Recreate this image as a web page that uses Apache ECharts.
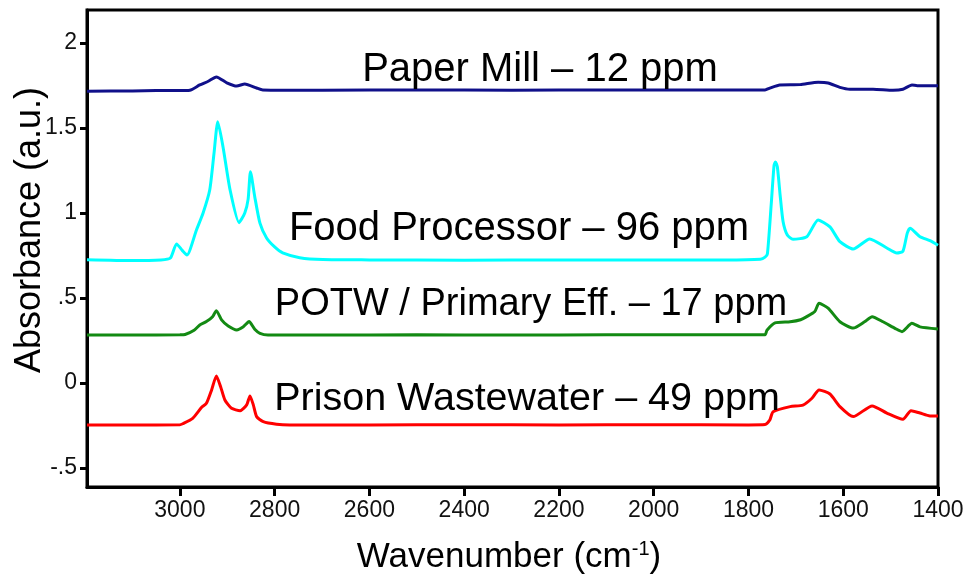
<!DOCTYPE html>
<html>
<head>
<meta charset="utf-8">
<script src="https://cdn.jsdelivr.net/npm/echarts@6/dist/echarts.min.js"></script>
<style>html,body{margin:0;padding:0;background:#fff;}#c{width:969px;height:580px;}</style>
</head>
<body>
<div id="c"></div>
<script>
var xTicks = [1400, 1600, 1800, 2000, 2200, 2400, 2600, 2800, 3000];
var yTicks = [-0.5, 0, 0.5, 1, 1.5, 2];

var paperWn  = [3196, 3100, 3050, 3000, 2979, 2958, 2940, 2923, 2901, 2880, 2863, 2838, 2825, 2700, 2500, 2300, 2100, 1900, 1765, 1755, 1734, 1691, 1653, 1632, 1607, 1586, 1537, 1495, 1474, 1455, 1444, 1400];
var paperAbs = [1.716, 1.718, 1.72, 1.72, 1.722, 1.753, 1.775, 1.80, 1.766, 1.747, 1.759, 1.735, 1.724, 1.722, 1.724, 1.722, 1.724, 1.724, 1.724, 1.734, 1.753, 1.755, 1.769, 1.765, 1.739, 1.728, 1.728, 1.722, 1.728, 1.753, 1.749, 1.749];

var foodWn  = [3196, 3100, 3040, 3020, 3007, 2995, 2985, 2965, 2951, 2937, 2928, 2920, 2909, 2894, 2875, 2863, 2856, 2851, 2842, 2831, 2817, 2800, 2783, 2747, 2698, 2600, 2400, 2200, 2000, 1850, 1775, 1765, 1760, 1752, 1746, 1743, 1739, 1733, 1727, 1718, 1706, 1677, 1653, 1628, 1607, 1579, 1544, 1508, 1487, 1474, 1465, 1459, 1438, 1417, 1400];
var foodAbs = [0.725, 0.72, 0.724, 0.735, 0.818, 0.78, 0.753, 0.90, 1.0, 1.135, 1.35, 1.537, 1.39, 1.135, 0.943, 1.0, 1.08, 1.243, 1.096, 0.94, 0.853, 0.80, 0.765, 0.737, 0.726, 0.724, 0.722, 0.724, 0.724, 0.724, 0.728, 0.74, 0.76, 1.05, 1.28, 1.30, 1.27, 1.10, 0.95, 0.87, 0.845, 0.86, 0.959, 0.918, 0.831, 0.788, 0.847, 0.794, 0.765, 0.775, 0.88, 0.91, 0.86, 0.837, 0.81];

var potwWn  = [3196, 3100, 3000, 2989, 2970, 2958, 2944, 2931, 2923, 2912, 2898, 2880, 2866, 2854, 2842, 2831, 2814, 2700, 2500, 2300, 2100, 1900, 1765, 1761, 1744, 1712, 1690, 1677, 1660, 1651, 1632, 1607, 1579, 1555, 1539, 1516, 1490, 1476, 1455, 1438, 1400];
var potwAbs = [0.282, 0.282, 0.283, 0.285, 0.31, 0.341, 0.361, 0.39, 0.425, 0.371, 0.335, 0.312, 0.331, 0.361, 0.316, 0.292, 0.282, 0.282, 0.283, 0.282, 0.283, 0.283, 0.284, 0.31, 0.353, 0.36, 0.372, 0.39, 0.42, 0.469, 0.44, 0.36, 0.323, 0.36, 0.39, 0.36, 0.32, 0.302, 0.351, 0.33, 0.318];

var prisonWn  = [3196, 3100, 3000, 2994, 2973, 2954, 2944, 2933, 2923, 2914, 2905, 2891, 2873, 2859, 2852, 2845, 2838, 2824, 2796, 2768, 2600, 2400, 2200, 2000, 1800, 1765, 1755, 1748, 1712, 1685, 1666, 1651, 1628, 1607, 1579, 1539, 1508, 1474, 1457, 1438, 1417, 1400];
var prisonAbs = [-0.247, -0.247, -0.246, -0.24, -0.208, -0.143, -0.12, -0.041, 0.041, -0.022, -0.1, -0.149, -0.163, -0.129, -0.076, -0.129, -0.198, -0.228, -0.243, -0.247, -0.247, -0.246, -0.247, -0.246, -0.247, -0.245, -0.218, -0.169, -0.139, -0.13, -0.09, -0.041, -0.065, -0.139, -0.198, -0.135, -0.177, -0.214, -0.163, -0.177, -0.194, -0.194];

var seriesNames = ['Paper Mill \u2013 12 ppm', 'Food Processor \u2013 96 ppm', 'POTW / Primary Eff. \u2013 17 ppm', 'Prison Wastewater \u2013 49 ppm'];
var seriesColors = ['#10108a', '#00ffff', '#138a13', '#ff0000'];

function pairs(xs, ys) { return xs.map(function (x, i) { return [x, ys[i]]; }); }
var allData = [pairs(paperWn, paperAbs), pairs(foodWn, foodAbs), pairs(potwWn, potwAbs), pairs(prisonWn, prisonAbs)];

var FONT = "'Liberation Sans', Arial, sans-serif";
var chart = echarts.init(document.getElementById('c'), null, {renderer: 'canvas'});

var labelPos = [[540, 70], [519, 229], [531, 305], [527, 399]];
var labelSize = [40, 40, 38, 39.5];

chart.setOption({
  animation: false,
  backgroundColor: '#fff',
  grid: {left: 87, right: 31, top: 10, bottom: 93, show: true, borderColor: '#000', borderWidth: 3, backgroundColor: 'transparent'},
  xAxis: {
    type: 'value', inverse: true, min: 1400, max: 3196,
    axisLine: {show: true, onZero: false, lineStyle: {color: '#000', width: 3}},
    axisTick: {show: true, length: 9, lineStyle: {color: '#000', width: 3}, customValues: xTicks},
    axisLabel: {color: '#111', fontFamily: FONT, fontSize: 23, margin: 12, customValues: xTicks,
      formatter: function (v) { return String(Math.round(v)); }},
    splitLine: {show: false}
  },
  yAxis: {
    type: 'value', min: -0.612, max: 2.194,
    axisLine: {show: true, onZero: false, lineStyle: {color: '#000', width: 3}},
    axisTick: {show: true, length: 7, lineStyle: {color: '#000', width: 3}, customValues: yTicks},
    axisLabel: {color: '#111', fontFamily: FONT, fontSize: 23, margin: 10, customValues: yTicks,
      formatter: function (v) { var s = String(Math.round(v * 10) / 10); return s.replace(/^0\./, '.').replace(/^-0\./, '-.'); }},
    splitLine: {show: false}
  },
  series: allData.map(function (d, i) {
    return {type: 'line', name: seriesNames[i], data: d, showSymbol: false, smooth: 0.2,
      lineStyle: {color: seriesColors[i], width: 3}, itemStyle: {color: seriesColors[i]}};
  }),
  graphic: labelPos.map(function (p, i) {
    return {type: 'text', x: p[0], y: p[1], z: 100,
      style: {text: seriesNames[i], font: labelSize[i] + 'px ' + FONT, fill: '#000', align: 'center', verticalAlign: 'middle'}};
  }).concat([
    {type: 'text', x: 30, y: 230, rotation: Math.PI / 2, z: 100,
      style: {text: 'Absorbance (a.u.)', font: '36px ' + FONT, fill: '#000', align: 'center', verticalAlign: 'middle'}},
    {type: 'text', x: 509, y: 557, z: 100,
      style: {text: '{a|Wavenumber (cm}{s|-1}{a|)}', align: 'center', verticalAlign: 'middle',
        rich: {a: {fontFamily: FONT, fontSize: 35, fill: '#000', color: '#000'},
               s: {fontFamily: FONT, fontSize: 20, fill: '#000', color: '#000', verticalAlign: 'top', padding: [0, 0, 14, 0]}}}}
  ])
});
</script>
</body>
</html>
